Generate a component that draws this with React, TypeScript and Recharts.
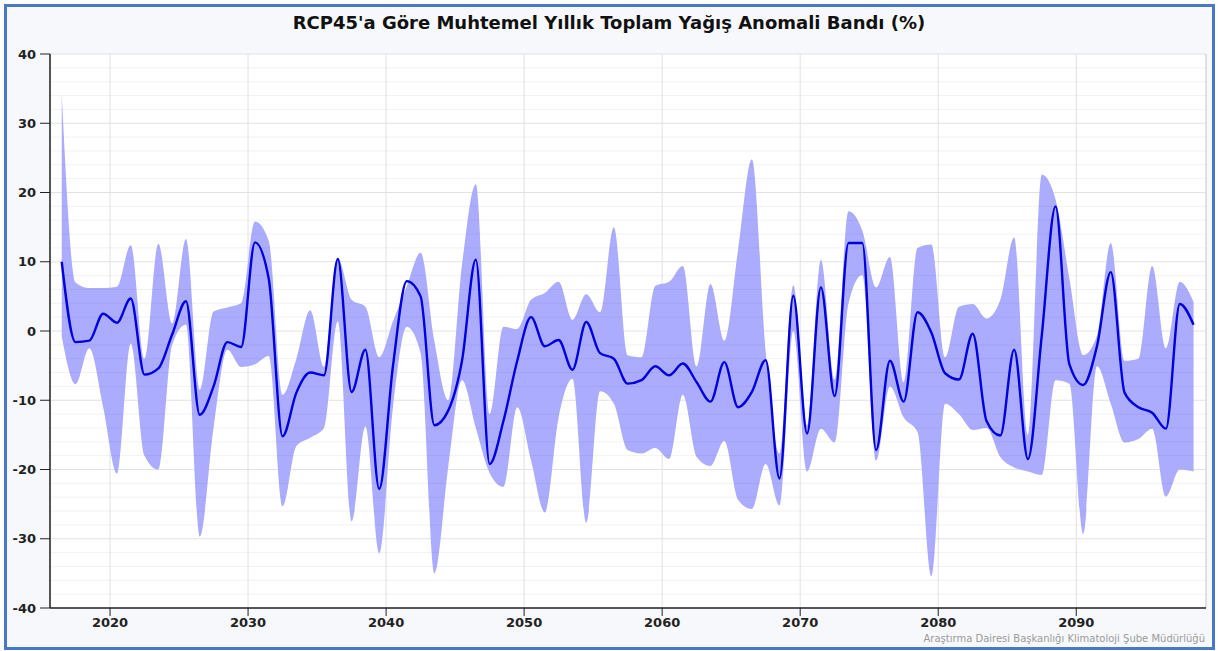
import { ComposedChart, Area, Line, XAxis, YAxis, CartesianGrid, ReferenceLine } from 'recharts';

// yearly values, first point is 2016, drawn at mid-year
const FIRST_YEAR = 2016;

const meanValues = [
  10, -1.6, -1.4, 2.5, 1.2, 4.7, -6.3, -5.4, -0.5, 4.3,
  -12.1, -8, -1.6, -2.3, 12.8, 7.5, -15.2, -8.9, -6, -6.4,
  10.4, -8.8, -2.7, -22.8, -5, 7.2, 5, -13.6, -11.5, -4.3,
  10.3, -19.2, -13, -4.3, 2, -2.2, -1.3, -5.6, 1.3, -3.2,
  -4, -7.6, -7.1, -5.1, -6.4, -4.7, -7.4, -10.2, -4.5, -11,
  -8.8, -4.2, -21.3, 5.1, -14.8, 6.3, -9.4, 12.7, 12.7, -17.2,
  -4.3, -10.2, 2.7, -0.2, -6.1, -7, -0.4, -13, -15.1, -2.7,
  -18.5, -0.7, 18, -4.8, -7.8, -2.2, 8.5, -8.9, -11, -11.8,
  -14.1, 3.9, 0.9,
];

const minValues = [
  -0.8, -7.7, -2.5, -11, -20.6, -1.8, -18, -20, -2, 0.9,
  -29.7, -14, -2.7, -5.2, -4.8, -3.6, -25.3, -16.6, -15.4, -14,
  1.4, -27.5, -13.8, -32.1, -11, 0.6, -3.2, -35, -19.7, -7.1,
  -14, -20.5, -22.5, -11, -18.7, -26.2, -12.5, -6.9, -27.7, -8.7,
  -10.5, -17.2, -17.7, -16.9, -18.5, -9.2, -18.2, -19.5, -15.9, -24.4,
  -25.7, -19.2, -25.2, 0, -20.3, -14.1, -16.1, 4, 8.1, -18.7,
  -8, -12.5, -14.6, -35.4, -10.5, -12, -14.3, -14, -18.2, -19.7,
  -20.3, -20.8, -7.1, -7.6, -29.3, -5.1, -10.5, -16.1, -15.6, -14.1,
  -23.9, -20, -20.3,
];

const maxValues = [
  34.2, 7, 6.2, 6.2, 6.4, 12.4, -4, 12.6, 1.1, 13.3,
  -8.5, 2.8, 3.4, 4, 15.8, 13, -9.2, -4, 3, -5.2,
  10.5, 4.5, 3.5, -3.8, 1.4, 6.5, 11.3, -1.5, -10, 9.6,
  21.2, -12, 0.6, 0.3, 4.5, 5.5, 7.1, 1.6, 5.3, 2.7,
  15, -3.5, -3.8, 6.5, 7.1, 9.4, -5.1, 6.8, -1.4, 11.7,
  24.8, -3, -17.7, 6.6, -13.6, 10.3, -7, 17.3, 14.5, 6.3,
  10.7, -7.4, 12, 12.5, -3.8, 3.5, 3.9, 1.8, 4.5, 13.5,
  -15, 22.6, 19, 7.6, -3.5, -0.7, 12.7, -4.3, -4, 9.4,
  -2.5, 7.1, 4.2,
];

const xTicks = [2020, 2030, 2040, 2050, 2060, 2070, 2080, 2090];
const yTicks = [-40, -30, -20, -10, 0, 10, 20, 30, 40];
const minorY = [-38, -36, -34, -32, -28, -26, -24, -22, -18, -16, -14, -12, -8, -6, -4, -2,
  2, 4, 6, 8, 12, 14, 16, 18, 22, 24, 26, 28, 32, 34, 36, 38];

const X_MIN = 2015.65;
const X_MAX = 2099.4;

const chartData = meanValues.map((m, i) => ({
  x: FIRST_YEAR + i + 0.5,
  mean: m,
  band: [minValues[i], maxValues[i]],
}));

export default function App() {
  return (
    <div style={{ position: 'absolute', left: 0, top: 0, width: 1218, height: 651, background: '#fff', fontFamily: '"DejaVu Sans", Verdana, sans-serif' }}>
      <div style={{ position: 'absolute', left: 4, top: 4, width: 1211, height: 646, boxSizing: 'border-box', border: '3px solid #4a78c8', background: '#f7f8fc' }} />
      <div style={{ position: 'absolute', left: 0, top: 12, width: 1218, textAlign: 'center', fontSize: 18, fontWeight: 'bold', color: '#111' }}>
        RCP45'a Göre Muhtemel Yıllık Toplam Yağış Anomali Bandı (%)
      </div>
      <div style={{ position: 'absolute', right: 13, top: 633, fontSize: 10, color: '#9a9a9a' }}>
        Araştırma Dairesi Başkanlığı Klimatoloji Şube Müdürlüğü
      </div>
      <div style={{ position: 'absolute', left: 0, top: 0 }}>
        <ComposedChart width={1218} height={651} data={chartData} margin={{ top: 54, right: 12, bottom: 13, left: 0 }}>
          <CartesianGrid fill="#ffffff" stroke="#e2e2e6" />
          <ReferenceLine x={X_MAX} stroke="#cfcfd6" />
          <XAxis
            type="number"
            dataKey="x"
            domain={[X_MIN, X_MAX]}
            ticks={xTicks}
            allowDataOverflow
            height={30}
            axisLine={{ stroke: '#222', strokeWidth: 1.5 }}
            tickLine={{ stroke: '#222' }}
            tickSize={8}
            tickMargin={2}
            tick={{ fontSize: 13, fontWeight: 'bold', fill: '#222' }}
          />
          <YAxis
            domain={[-40, 40]}
            ticks={yTicks}
            width={50}
            allowDataOverflow
            axisLine={{ stroke: '#222', strokeWidth: 1.5 }}
            tickLine={{ stroke: '#222' }}
            tickSize={10}
            tickMargin={4}
            tick={{ fontSize: 13, fontWeight: 'bold', fill: '#222' }}
          />
          <Area
            type="monotone"
            dataKey="band"
            stroke="none"
            fill="#acacff"
            fillOpacity={1}
            isAnimationActive={false}
          />
          {minorY.map((v) => (
            <ReferenceLine key={v} y={v} stroke="#000" strokeOpacity={0.05} strokeWidth={1} />
          ))}
          <Line
            type="monotone"
            dataKey="mean"
            stroke="#0000dd"
            strokeWidth={2.4}
            dot={false}
            isAnimationActive={false}
          />
        </ComposedChart>
      </div>
    </div>
  );
}
